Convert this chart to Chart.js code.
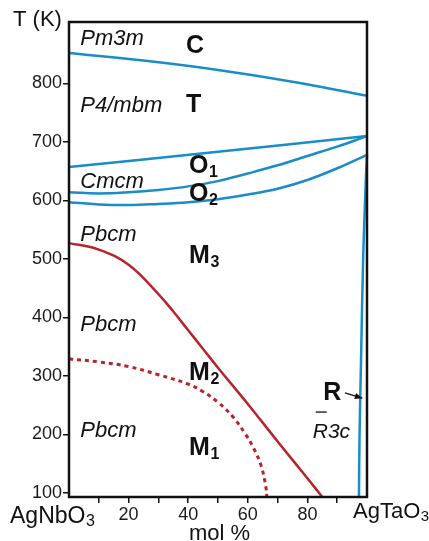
<!DOCTYPE html>
<html>
<head>
<meta charset="utf-8">
<script src="https://cdn.jsdelivr.net/npm/chart.js@4.4.1/dist/chart.umd.min.js"></script>
<style>
  html, body { margin: 0; padding: 0; background: #fff; }
  canvas { display: block; }
</style>
</head>
<body>
<canvas id="phaseChart" width="429" height="541"></canvas>
<script>
const yTicks = [100, 200, 300, 400, 500, 600, 700, 800];
const xTicks = [10, 20, 30, 40, 50, 60, 70, 80, 90];
const xTickLabels = ['', '20', '', '40', '', '60', '', '80', ''];

// phase boundaries, mol % AgTaO3 vs T (K)
const ctMol = [0, 25, 50, 75, 100];
const ctTemp = [852, 839, 823, 803, 779];

const to1Mol = [0, 50, 100];
const to1Temp = [657, 683, 710];

const o1o2Mol = [0, 10, 20, 30, 40, 50, 60, 70, 80, 90, 100];
const o1o2Temp = [614, 612, 614, 618, 624, 633, 646, 660, 676, 692, 710];

const o2m3Mol = [0, 10, 20, 30, 40, 50, 60, 70, 80, 90, 100];
const o2m3Temp = [597, 593, 592, 594, 597, 602, 610, 620, 635, 655, 678];

const rMol = [100, 99.6, 98.7, 98.0, 97.5, 97.3];
const rTemp = [678, 635, 500, 327, 200, 93];

const m3m2Mol = [0, 10, 20, 30, 35, 40, 45, 50, 60, 70, 80, 85];
const m3m2Temp = [527, 516, 490, 440, 410, 378, 346, 314, 252, 188, 125, 93];

const m2m1Mol = [0, 10, 20, 30, 40, 45, 50, 55, 59, 62, 64.5, 66, 66.4];
const m2m1Temp = [329, 324, 316, 302, 286, 273, 255, 230, 202, 176, 146, 112, 93];

// region labels
const groupNames = ['Pm3m', 'P4/mbm', 'Cmcm', 'Pbcm', 'Pbcm', 'Pbcm'];
const groupTemp = [876, 761, 632, 541, 387, 206];
const phaseNames = ['C', 'T', 'O', 'O', 'M', 'M', 'M'];
const phaseSubs = ['', '', '1', '2', '3', '2', '1'];
const phaseTemp = [864, 763, 659, 611, 505, 305, 177];

const blue = '#1a8cc8';
const red = '#b8242b';
const ink = '#111';
const fam = '"Liberation Sans", Arial, sans-serif';

function pts(xs, ys) {
  return xs.map((v, i) => ({ x: v, y: ys[i] }));
}

function line(xs, ys, color, extra) {
  return Object.assign({
    data: pts(xs, ys),
    showLine: true,
    borderColor: color,
    borderWidth: 2.5,
    pointRadius: 0,
    tension: 0.4,
    clip: 4
  }, extra || {});
}

function textWithSub(ctx, main, sub, x, y, font, subFont, dy) {
  ctx.font = font;
  ctx.fillText(main, x, y);
  if (sub) {
    const w = ctx.measureText(main).width;
    ctx.font = subFont;
    ctx.fillText(sub, x + w + 0.5, y + dy);
  }
}

const decorations = {
  id: 'decorations',
  afterDatasetsDraw(chart) {
    const { ctx, chartArea: a, scales: { x, y } } = chart;
    ctx.save();

    // frame
    ctx.strokeStyle = ink;
    ctx.lineWidth = 2.5;
    ctx.strokeRect(a.left, a.top, a.right - a.left, a.bottom - a.top);

    ctx.fillStyle = ink;
    ctx.textBaseline = 'middle';
    ctx.textAlign = 'left';

    // space groups
    ctx.font = 'italic 22px ' + fam;
    groupNames.forEach((g, i) => {
      ctx.fillText(g, x.getPixelForValue(3.8), y.getPixelForValue(groupTemp[i]));
    });

    // phase letters
    phaseNames.forEach((p, i) => {
      const px = i < 2 ? x.getPixelForValue(39.3) : x.getPixelForValue(40.3);
      textWithSub(ctx, p, phaseSubs[i], px, y.getPixelForValue(phaseTemp[i]),
        'bold 25px ' + fam, 'bold 16px ' + fam, 7);
    });

    // R phase and arrow
    ctx.font = 'bold 25px ' + fam;
    ctx.fillText('R', x.getPixelForValue(85.3), y.getPixelForValue(271));
    const ax0 = x.getPixelForValue(92.6), ay0 = y.getPixelForValue(271);
    const ax1 = x.getPixelForValue(98.4), ay1 = y.getPixelForValue(262);
    ctx.strokeStyle = ink;
    ctx.lineWidth = 1.2;
    ctx.beginPath();
    ctx.moveTo(ax0, ay0);
    ctx.lineTo(ax1, ay1);
    ctx.stroke();
    const ang = Math.atan2(ay1 - ay0, ax1 - ax0);
    ctx.beginPath();
    ctx.moveTo(ax1, ay1);
    ctx.lineTo(ax1 - 8 * Math.cos(ang - 0.4), ay1 - 8 * Math.sin(ang - 0.4));
    ctx.lineTo(ax1 - 8 * Math.cos(ang + 0.4), ay1 - 8 * Math.sin(ang + 0.4));
    ctx.closePath();
    ctx.fill();

    ctx.font = 'italic 21px ' + fam;
    const rx = x.getPixelForValue(81.8);
    const ry = y.getPixelForValue(204);
    ctx.fillText('R3c', rx, ry);
    ctx.lineWidth = 1.3;
    ctx.beginPath();
    ctx.moveTo(rx + 3, ry - 20);
    ctx.lineTo(rx + 14, ry - 20);
    ctx.stroke();

    // axis titles and end members
    ctx.font = '22px ' + fam;
    ctx.fillText('T (K)', 13, 20);
    ctx.textAlign = 'center';
    ctx.fillText('mol %', x.getPixelForValue(50.5), 534);
    ctx.textAlign = 'left';
    textWithSub(ctx, 'AgNbO', '3', 10, 517, '23px ' + fam, '16px ' + fam, 5);
    textWithSub(ctx, 'AgTaO', '3', 353, 512, '22px ' + fam, '15px ' + fam, 5);

    ctx.restore();
  }
};

new Chart(document.getElementById('phaseChart'), {
  type: 'scatter',
  data: {
    datasets: [
      line(ctMol, ctTemp, blue),
      line(to1Mol, to1Temp, blue),
      line(o1o2Mol, o1o2Temp, blue),
      line(o2m3Mol, o2m3Temp, blue),
      line(rMol, rTemp, blue, { tension: 0.3 }),
      line(m3m2Mol, m3m2Temp, red),
      line(m2m1Mol, m2m1Temp, red, { borderDash: [4, 4], borderWidth: 3 })
    ]
  },
  options: {
    responsive: false,
    animation: false,
    layout: { padding: { left: 0, top: 22, right: 62, bottom: 0 } },
    plugins: {
      legend: { display: false },
      tooltip: { enabled: false }
    },
    scales: {
      x: {
        type: 'linear',
        min: 0,
        max: 100,
        afterBuildTicks: s => { s.ticks = xTicks.map(v => ({ value: v })); },
        afterFit: s => { s.height = 44; },
        border: { display: false },
        grid: { drawOnChartArea: false, drawTicks: true, tickLength: 6, color: ink, lineWidth: 1.5 },
        ticks: {
          autoSkip: false,
          maxRotation: 0,
          padding: 1,
          color: '#1a1a1a',
          font: { family: fam, size: 18 },
          callback: v => xTickLabels[xTicks.indexOf(v)]
        }
      },
      y: {
        type: 'linear',
        min: 93,
        max: 905,
        afterBuildTicks: s => { s.ticks = yTicks.map(v => ({ value: v })); },
        afterFit: s => { s.width = 69; },
        border: { display: false },
        grid: { drawOnChartArea: false, drawTicks: true, tickLength: 6, color: ink, lineWidth: 1.5 },
        ticks: {
          padding: 1,
          color: '#1a1a1a',
          font: { family: fam, size: 18 }
        }
      }
    }
  },
  plugins: [decorations]
});
</script>
</body>
</html>
